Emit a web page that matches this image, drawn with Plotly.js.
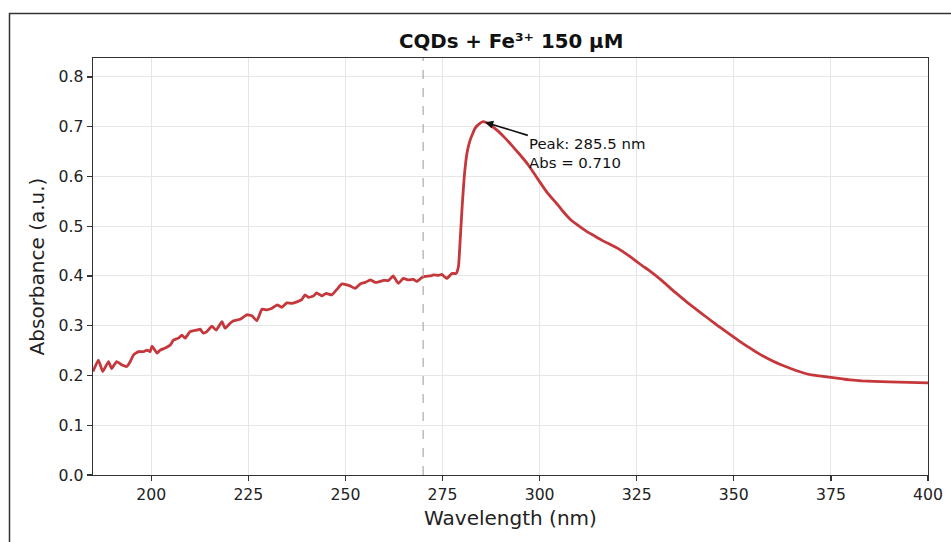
<!DOCTYPE html>
<html>
<head>
<meta charset="utf-8">
<script src="https://cdn.plot.ly/plotly-3.0.1.min.js"></script>
<style>html,body{margin:0;padding:0;background:#fff;}#plot{width:951px;height:542px;}</style>
</head>
<body>
<div id="plot"></div>
<script>
const wavelength = [185.0,186.4,187.5,189.0,189.8,191.1,192.5,193.7,194.6,195.4,196.7,198.0,198.9,199.7,200.2,201.5,202.3,203.6,204.9,205.7,207.0,207.9,208.7,210.0,211.7,212.6,213.4,214.3,215.6,216.7,218.2,219.0,220.3,221.2,222.9,224.6,225.9,227.2,228.5,229.8,231.1,232.4,233.6,234.9,236.2,237.5,238.8,239.6,240.5,241.8,242.6,243.9,245.0,246.5,247.8,249.1,250.4,251.2,252.5,253.8,255.1,256.4,257.7,258.9,259.8,261.1,262.3,263.6,264.9,266.2,267.5,268.4,269.7,270.5,271.8,272.7,274.0,274.8,276.1,277.4,278.5,279.1,279.5,280.0,280.6,281.3,282.1,283.4,284.7,285.5,287,289,291,293,295,297,299,301,302,304,305,306,307,308,310,312,314,316,318,320,322,324,326,328,330,332,334,336,338,340,342,344,346,348,350,352,354,356,358,360,362,364,366,368,370,372,374,376,378,380,383,386,390,395,400];
const absorbance = [0.208,0.231,0.208,0.228,0.214,0.228,0.221,0.218,0.228,0.241,0.248,0.248,0.251,0.248,0.259,0.245,0.251,0.255,0.261,0.271,0.275,0.281,0.275,0.288,0.291,0.293,0.285,0.288,0.299,0.291,0.308,0.295,0.305,0.310,0.313,0.322,0.320,0.310,0.333,0.332,0.335,0.342,0.337,0.346,0.345,0.348,0.353,0.362,0.357,0.360,0.366,0.360,0.365,0.362,0.373,0.384,0.382,0.380,0.375,0.384,0.387,0.392,0.387,0.389,0.391,0.391,0.400,0.385,0.395,0.392,0.393,0.389,0.397,0.399,0.400,0.402,0.401,0.403,0.395,0.405,0.405,0.419,0.466,0.533,0.600,0.647,0.673,0.697,0.707,0.710,0.705,0.693,0.678,0.661,0.643,0.624,0.601,0.578,0.567,0.549,0.540,0.530,0.521,0.513,0.501,0.490,0.481,0.472,0.464,0.456,0.446,0.435,0.423,0.412,0.400,0.387,0.373,0.360,0.347,0.335,0.323,0.311,0.299,0.288,0.277,0.266,0.256,0.246,0.237,0.229,0.222,0.216,0.210,0.205,0.201,0.199,0.197,0.195,0.193,0.191,0.189,0.188,0.187,0.186,0.185];
const peakWavelength = 285.5;
const peakAbs = 0.710;
const markerLine = 270;
const titleText = 'CQDs + Fe³⁺ 150 μM';
const xTicks = [200,225,250,275,300,325,350,375,400];
const yTicks = [0.0,0.1,0.2,0.3,0.4,0.5,0.6,0.7,0.8];

const FONT = 'DejaVu Sans, sans-serif';
const trace = {
  x: wavelength, y: absorbance, type: 'scatter', mode: 'lines',
  line: {color: '#c5373a', width: 2.8, shape: 'spline', smoothing: 0.4},
  hoverinfo: 'skip'
};
const layout = {
  width: 951, height: 542,
  margin: {l: 93, r: 23, t: 58, b: 67},
  paper_bgcolor: '#fff', plot_bgcolor: '#fff',
  showlegend: false,
  font: {family: FONT, color: '#222'},
  title: {text: '<b>' + titleText + '</b>', font: {family: FONT, size: 19.8, color: '#111'}, x: 0.5375, xanchor: 'center', y: 0.924, yanchor: 'middle'},
  xaxis: {
    range: [185, 400], tickvals: xTicks, ticktext: xTicks.map(String),
    showgrid: true, gridcolor: '#e6e6e6', gridwidth: 1,
    showline: true, linecolor: '#333', linewidth: 1.3, mirror: true,
    ticks: 'outside', ticklen: 5, tickwidth: 1.2, tickcolor: '#333',
    tickfont: {family: FONT, size: 15.7, color: '#222'},
    zeroline: false,
    title: {text: 'Wavelength (nm)', font: {family: FONT, size: 20, color: '#222'}, standoff: 8}
  },
  yaxis: {
    range: [0, 0.838], tickvals: yTicks, ticktext: yTicks.map(v => v.toFixed(1)),
    showgrid: true, gridcolor: '#e6e6e6', gridwidth: 1,
    showline: true, linecolor: '#333', linewidth: 1.3, mirror: true,
    ticks: 'outside', ticklen: 5, tickwidth: 1.2, tickcolor: '#333',
    tickfont: {family: FONT, size: 15.7, color: '#222'},
    zeroline: false,
    title: {text: 'Absorbance (a.u.)', font: {family: FONT, size: 20, color: '#222'}, standoff: 8}
  },
  shapes: [
    {type: 'line', xref: 'x', yref: 'paper', x0: markerLine, x1: markerLine, y0: 0, y1: 1,
     line: {color: '#aaaaaa', width: 1.2, dash: 'dash'}},
    {type: 'rect', xref: 'paper', yref: 'paper', x0: -0.1, x1: 1.2, y0: -0.3, y1: 1.1067,
     line: {color: '#333', width: 1.5}, fillcolor: 'rgba(0,0,0,0)', layer: 'above'}
  ],
  annotations: [{
    x: peakWavelength, y: peakAbs, xref: 'x', yref: 'y',
    text: 'Peak: ' + peakWavelength.toFixed(1) + ' nm<br>Abs = ' + peakAbs.toFixed(3),
    align: 'left', showarrow: true, arrowhead: 2, arrowsize: 1, arrowwidth: 1.6, arrowcolor: '#111',
    ax: 104, ay: 32, standoff: 2,
    font: {family: FONT, size: 14.9, color: '#111'}
  }]
};
Plotly.newPlot('plot', [trace], layout, {displayModeBar: false, staticPlot: true});
</script>
</body>
</html>
